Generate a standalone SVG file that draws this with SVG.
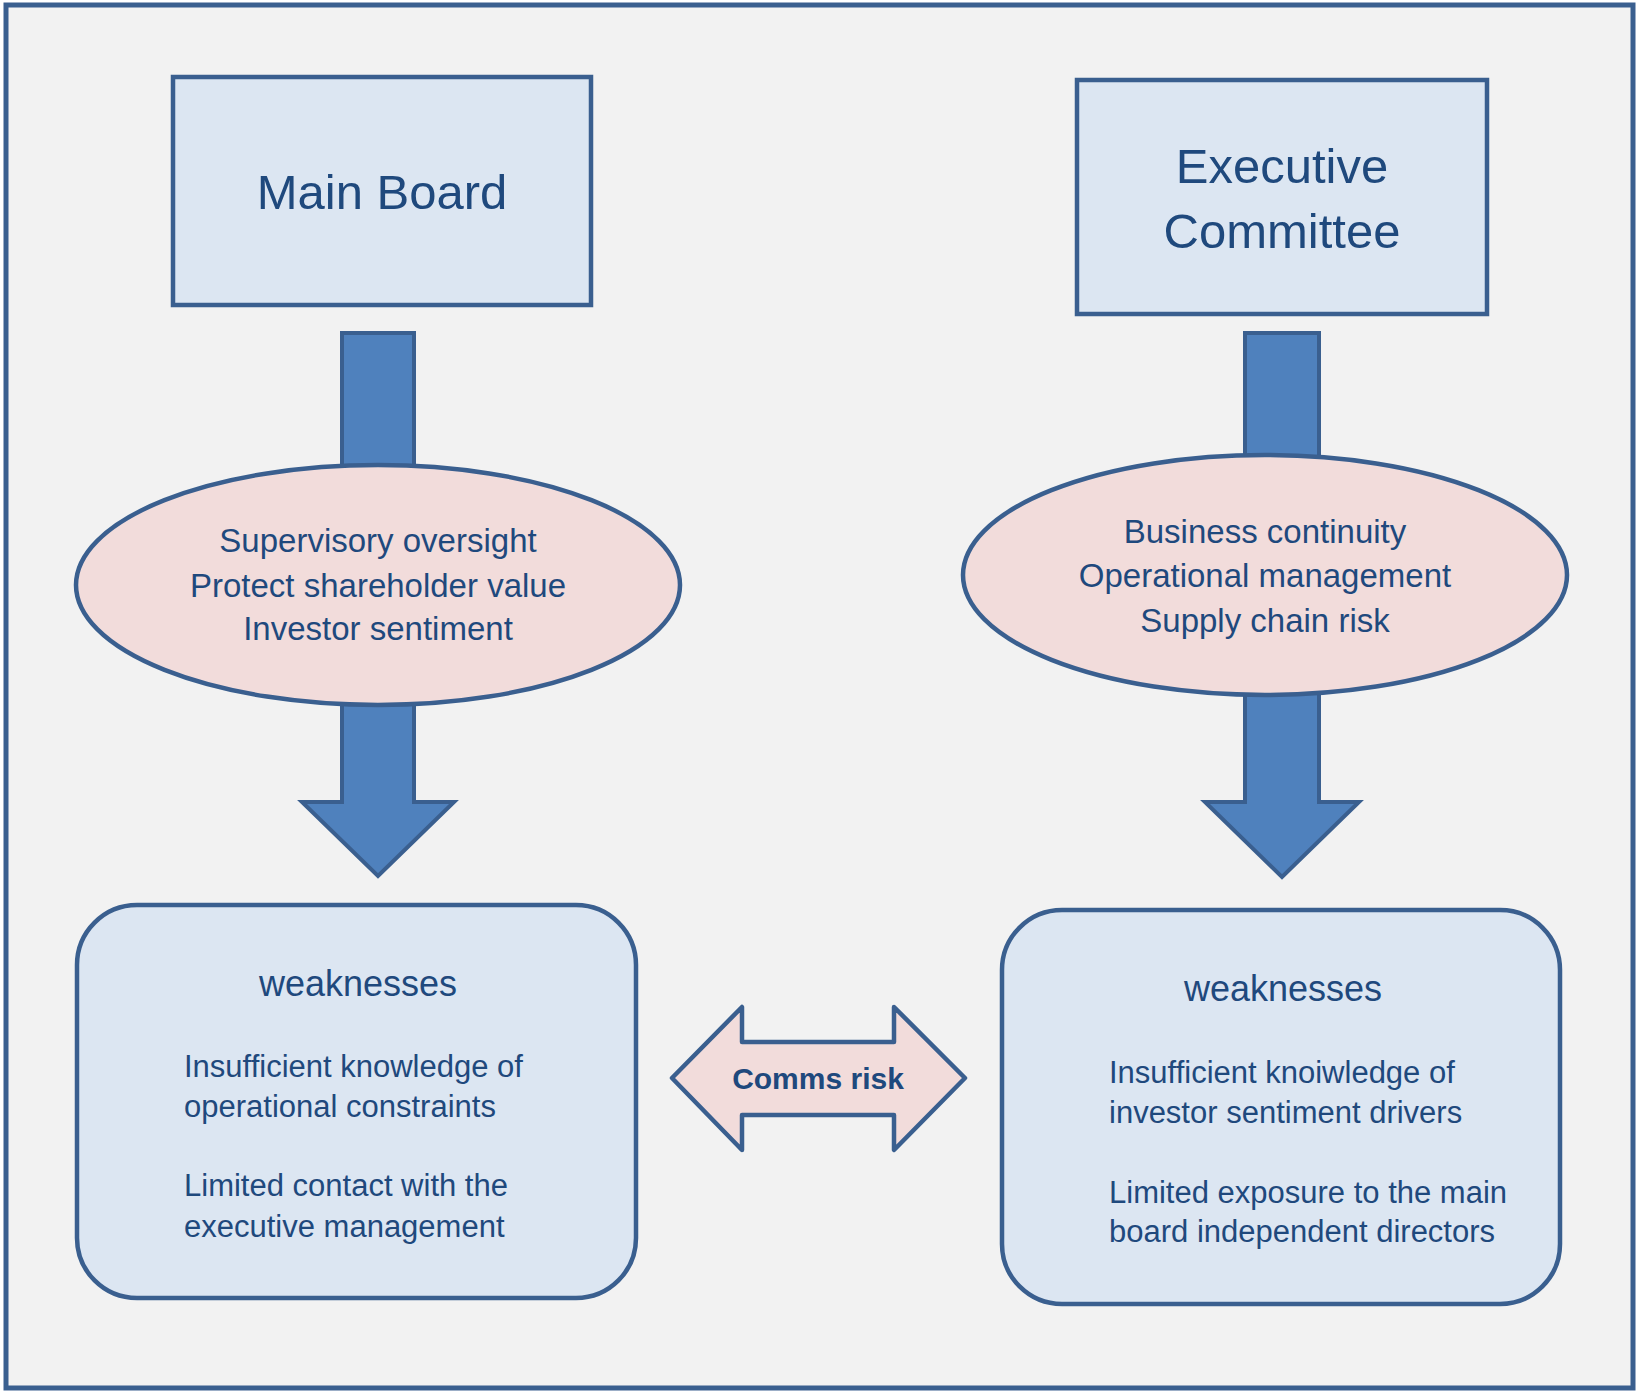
<svg xmlns="http://www.w3.org/2000/svg" width="1638" height="1396" viewBox="0 0 1638 1396">
<style>
.bg{fill:#f2f2f2;stroke:#3a5f8f;stroke-width:5}
.box{fill:#dce6f2;stroke:#3a5f8f;stroke-width:4.5}
.oval{fill:#f2dcdb;stroke:#3a5f8f;stroke-width:4.5}
.arrow{fill:#4f81bd;stroke:#3a5f8f;stroke-width:4;stroke-linejoin:miter}
.dbl{fill:#f2dcdb;stroke:#3a5f8f;stroke-width:4.5;stroke-linejoin:round}
text{font-family:"Liberation Sans",Arial,sans-serif;fill:#1f497d}
.title{font-size:49px;text-anchor:middle}
.oline{font-size:33px;text-anchor:middle}
.head{font-size:36px;text-anchor:middle}
.body{font-size:31px}
.comms{font-size:30px;font-weight:bold;text-anchor:middle}
</style>
<rect class="bg" x="6" y="5" width="1627" height="1383"/>
<g id="connectors">
  <rect class="arrow" x="342" y="333" width="72" height="150"/>
  <rect class="arrow" x="1245" y="333" width="74" height="140"/>
  <path class="arrow" d="M342 690 L414 690 L414 802 L454 802 L378 876 L302 802 L342 802 Z"/>
  <path class="arrow" d="M1245 680 L1319 680 L1319 802 L1359 802 L1282 877 L1205 802 L1245 802 Z"/>
</g>
<g id="main-board">
  <rect class="box" x="173" y="77" width="418" height="228"/>
  <text class="title" x="382" y="209">Main Board</text>
</g>
<g id="executive-committee">
  <rect class="box" x="1077" y="80" width="410" height="234"/>
  <text class="title" x="1282" y="183">Executive</text>
  <text class="title" x="1282" y="248">Committee</text>
</g>
<g id="board-focus">
  <ellipse class="oval" cx="378" cy="585" rx="302" ry="120"/>
  <text class="oline" x="378" y="552">Supervisory oversight</text>
  <text class="oline" x="378" y="597">Protect shareholder value</text>
  <text class="oline" x="378" y="640">Investor sentiment</text>
</g>
<g id="exec-focus">
  <ellipse class="oval" cx="1265" cy="575" rx="302" ry="120"/>
  <text class="oline" x="1265" y="543">Business continuity</text>
  <text class="oline" x="1265" y="587">Operational management</text>
  <text class="oline" x="1265" y="632">Supply chain risk</text>
</g>
<g id="board-weaknesses">
  <rect class="box" x="77" y="905" width="559" height="393" rx="60" ry="60"/>
  <text class="head" x="358" y="996">weaknesses</text>
  <text class="body" x="184" y="1077">Insufficient knowledge of</text>
  <text class="body" x="184" y="1117">operational constraints</text>
  <text class="body" x="184" y="1196">Limited contact with the</text>
  <text class="body" x="184" y="1237">executive management</text>
</g>
<g id="exec-weaknesses">
  <rect class="box" x="1002" y="910" width="558" height="394" rx="60" ry="60"/>
  <text class="head" x="1283" y="1001">weaknesses</text>
  <text class="body" x="1109" y="1083">Insufficient knoiwledge of</text>
  <text class="body" x="1109" y="1123">investor sentiment drivers</text>
  <text class="body" x="1109" y="1203">Limited exposure to the main</text>
  <text class="body" x="1109" y="1242">board independent directors</text>
</g>
<g id="comms-risk">
  <path class="dbl" d="M672 1078 L742 1007 L742 1042 L894 1042 L894 1007 L965 1078 L894 1150 L894 1115 L742 1115 L742 1150 Z"/>
  <text class="comms" x="818" y="1089">Comms risk</text>
</g>
</svg>
